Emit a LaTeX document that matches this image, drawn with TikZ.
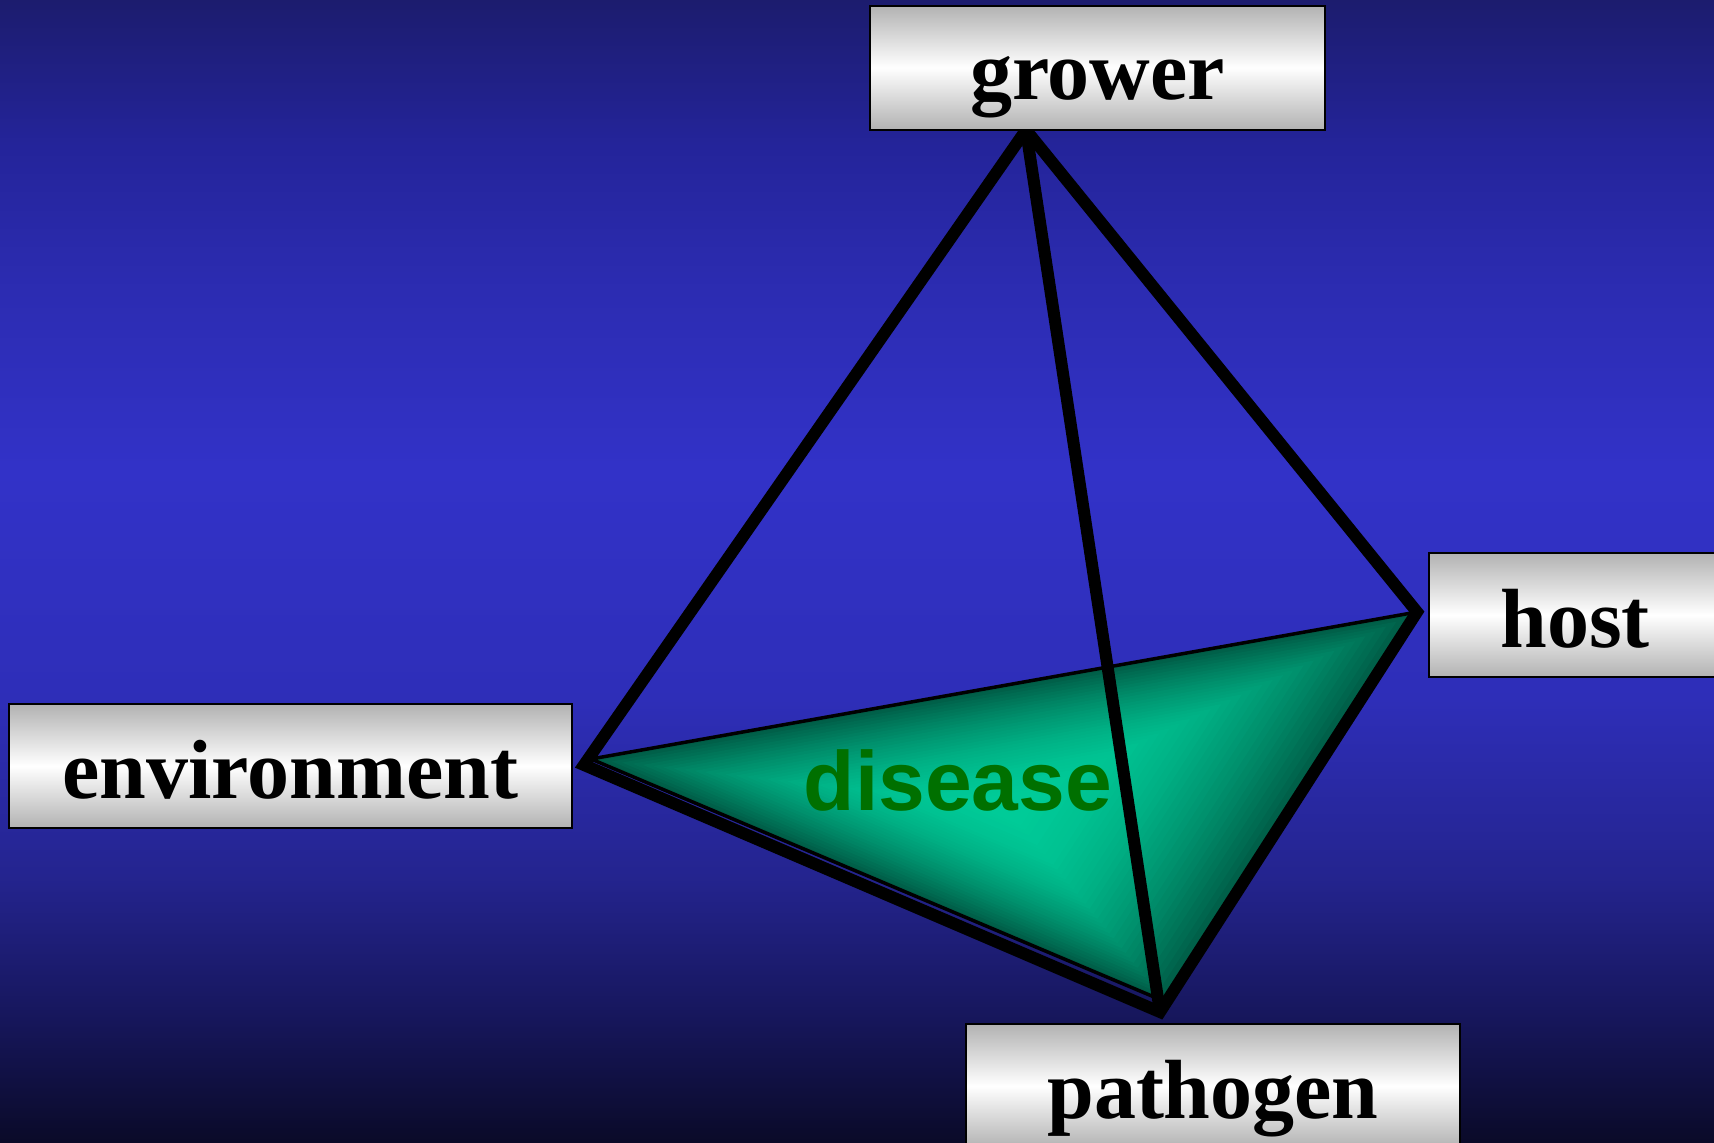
\documentclass[tikz,border=0pt]{standalone}
\usepackage{fontspec}
\setmainfont{Liberation Serif}
\newfontfamily\diseasefont{Liberation Sans}
\usepackage{xcolor}
\usepackage{tikz}
\usetikzlibrary{calc}
\definecolor{bgA}{HTML}{0A0A28}
\definecolor{bgB}{HTML}{16165A}
\definecolor{bgC}{HTML}{24248F}
\definecolor{bgD}{HTML}{2E2EB8}
\definecolor{bgE}{HTML}{3232C8}
\definecolor{bgF}{HTML}{2C2CB2}
\definecolor{bgG}{HTML}{24249A}
\definecolor{bgH}{HTML}{1C1C6E}
\definecolor{boxgray}{HTML}{B2B2B2}
\definecolor{trilight}{HTML}{00CC99}
\definecolor{tridark}{HTML}{005C46}
\definecolor{diseasegreen}{HTML}{007000}
\pgfdeclareverticalshading{bgshade}{100bp}{color(0bp)=(bgA); color(25bp)=(bgA); color(30.3bp)=(bgB); color(36.7bp)=(bgC); color(44.4bp)=(bgD); color(54.3bp)=(bgE); color(62.2bp)=(bgF); color(68.6bp)=(bgG); color(75bp)=(bgH); color(100bp)=(bgH)}
\pgfdeclareverticalshading{boxshade}{100bp}{color(0bp)=(boxgray); color(25bp)=(boxgray); color(50bp)=(white); color(75bp)=(boxgray); color(100bp)=(boxgray)}

\begin{document}
\begin{tikzpicture}[x=1pt, y=-1pt,
  labelbox/.style={draw=black, line width=2pt, shading=boxshade, inner sep=0pt, minimum height=124pt, text height=64pt, text depth=0pt, font=\fontsize{84}{100}\selectfont\bfseries},
  edge/.style={line width=12pt, line join=miter}]
\useasboundingbox (0,0) rectangle (1714,1143);
\clip (0,0) rectangle (1714,1143);
\shade[shading=bgshade] (0,0) rectangle (1714,1143);

% disease face, shaded from its centre outwards
\coordinate (triC) at (1005,806);
\coordinate (triE) at (591,759);
\coordinate (triH) at (1417,612);
\coordinate (triP) at (1166,1002);
\foreach \k in {0,...,39}{
  \pgfmathsetmacro\t{\k/40}
  \pgfmathtruncatemacro\p{100*(1-(1-\t)^2)}
  \fill[trilight!\p!tridark] ($(triC)!{1-\t}!(triE)$) -- ($(triC)!{1-\t}!(triH)$) -- ($(triC)!{1-\t}!(triP)$) -- cycle;
}
\draw[line width=3.5pt, line join=miter] (triE) -- (triH) -- (triP) -- cycle;

\node[anchor=base, text=diseasegreen, font=\diseasefont\bfseries\fontsize{84}{100}\selectfont] (disease) at (958,810) {disease};

% tetrahedron
\coordinate (envTip) at (584,765);
\coordinate (growerTip) at (1026,130);
\coordinate (hostTip) at (1417,612);
\coordinate (pathTip) at (1160,1012);
\draw[edge] (envTip) -- (growerTip) -- (hostTip) -- (pathTip) -- cycle;
\draw[edge] (growerTip) -- (pathTip);

\node[labelbox, minimum width=455pt] (grower) at (1097.5,67.5) {grower};
\node[labelbox, minimum width=563pt] (env) at (290.5,766) {environment};
\node[labelbox, minimum width=292pt] (host) at (1575,615) {host};
\node[labelbox, minimum width=494pt] (pathogen) at (1213,1086) {pathogen};
\end{tikzpicture}
\end{document}
